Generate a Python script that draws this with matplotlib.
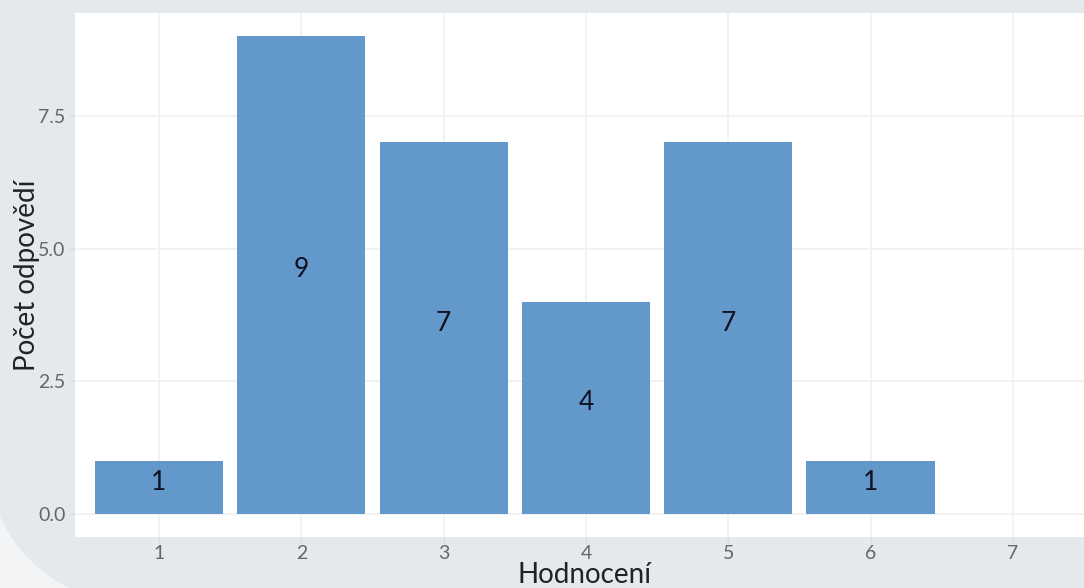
import matplotlib
matplotlib.use('Agg')
import matplotlib.pyplot as plt
from matplotlib.patches import FancyBboxPatch

plt.rcParams['font.family'] = ['Lato', 'DejaVu Sans']

# data
ratings = [1, 2, 3, 4, 5, 6]
counts = [1, 9, 7, 4, 7, 1]
x_ticks = [1, 2, 3, 4, 5, 6, 7]
y_ticks = [0.0, 2.5, 5.0, 7.5]

bg_color = '#e5e9ec'
bar_color = '#6398ca'

fig = plt.figure(figsize=(10.84, 5.88), dpi=100)
fig.patch.set_facecolor('#f2f4f6')

# gray card behind the chart, rounded corner at bottom-left (pixel coords)
bg_ax = fig.add_axes([0, 0, 1, 1], zorder=-1)
bg_ax.set_xlim(0, 1084)
bg_ax.set_ylim(588, 0)
bg_ax.axis('off')
card = FancyBboxPatch((-20, -100), 1300, 710,
                      boxstyle='round,pad=0,rounding_size=200',
                      facecolor=bg_color, edgecolor='none')
bg_ax.add_patch(card)

ax = fig.add_axes([0.0692, 0.0867, 0.9308, 0.8913])
ax.set_facecolor('white')

bars = ax.bar(ratings, counts, width=0.9, color=bar_color, zorder=2)
for bar, val in zip(bars, counts):
    ax.text(bar.get_x() + bar.get_width() / 2, bar.get_height() / 2 + 0.1,
            f'{val}', ha='center', va='center', fontsize=19,
            color='#111122', zorder=3)

ax.set_xlim(0.41, 7.5)
ax.set_ylim(-0.43, 9.44)
ax.set_xticks(x_ticks)
ax.set_yticks(y_ticks)
ax.set_yticklabels([f'{v:.1f}' for v in y_ticks])

ax.grid(True, color='#f0f0f0', linewidth=1.2, zorder=0)
ax.set_axisbelow(True)
for spine in ax.spines.values():
    spine.set_visible(False)

ax.tick_params(axis='both', colors='#dcdcdc', labelcolor='#666666',
               labelsize=14, length=4, width=1)
ax.tick_params(axis='x', pad=2)
ax.tick_params(axis='y', pad=3)

ax.set_xlabel('Hodnocení', fontsize=20, color='#222222')
ax.set_ylabel('Počet odpovědí', fontsize=20, color='#222222')
ax.xaxis.set_label_coords(0.505, -0.048)
ax.yaxis.set_label_coords(-0.035, 0.5)

fig.savefig('out.png', dpi=100, facecolor=fig.get_facecolor())
